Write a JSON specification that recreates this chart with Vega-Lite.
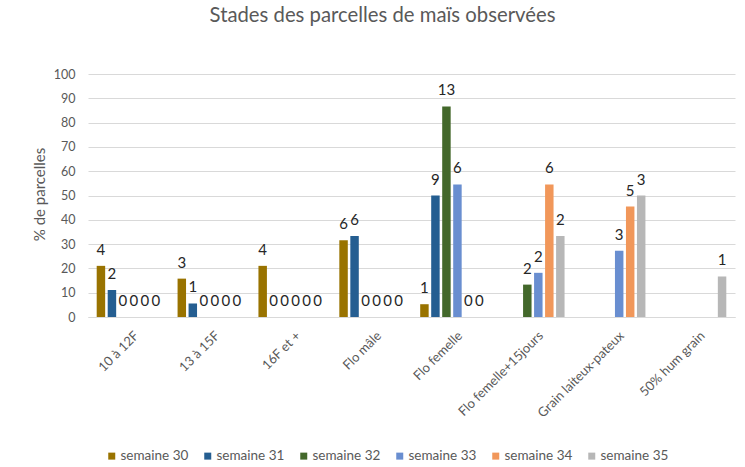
{
  "$schema": "https://vega.github.io/schema/vega-lite/v6.json",
  "width": 647,
  "height": 243,
  "autosize": {"type": "none"},
  "padding": {"left": 88, "top": 74, "right": 10, "bottom": 150},
  "background": "white",
  "title": {
    "text": "Stades des parcelles de maïs observées",
    "font": "Lato",
    "fontSize": 20.3,
    "fontWeight": "normal",
    "color": "#595959",
    "anchor": "middle",
    "baseline": "alphabetic",
    "offset": 26,
    "dx": -29
  },
  "data": {
    "values": [
      {"stade": "10 à 12F", "semaine": "semaine 30", "pct": 21.05, "n": 4},
      {"stade": "10 à 12F", "semaine": "semaine 31", "pct": 11.11, "n": 2},
      {"stade": "10 à 12F", "semaine": "semaine 32", "pct": 0, "n": 0},
      {"stade": "10 à 12F", "semaine": "semaine 33", "pct": 0, "n": 0},
      {"stade": "10 à 12F", "semaine": "semaine 34", "pct": 0, "n": 0},
      {"stade": "10 à 12F", "semaine": "semaine 35", "pct": 0, "n": 0},
      {"stade": "13 à 15F", "semaine": "semaine 30", "pct": 15.79, "n": 3},
      {"stade": "13 à 15F", "semaine": "semaine 31", "pct": 5.56, "n": 1},
      {"stade": "13 à 15F", "semaine": "semaine 32", "pct": 0, "n": 0},
      {"stade": "13 à 15F", "semaine": "semaine 33", "pct": 0, "n": 0},
      {"stade": "13 à 15F", "semaine": "semaine 34", "pct": 0, "n": 0},
      {"stade": "13 à 15F", "semaine": "semaine 35", "pct": 0, "n": 0},
      {"stade": "16F et +", "semaine": "semaine 30", "pct": 21.05, "n": 4},
      {"stade": "16F et +", "semaine": "semaine 31", "pct": 0, "n": 0},
      {"stade": "16F et +", "semaine": "semaine 32", "pct": 0, "n": 0},
      {"stade": "16F et +", "semaine": "semaine 33", "pct": 0, "n": 0},
      {"stade": "16F et +", "semaine": "semaine 34", "pct": 0, "n": 0},
      {"stade": "16F et +", "semaine": "semaine 35", "pct": 0, "n": 0},
      {"stade": "Flo mâle", "semaine": "semaine 30", "pct": 31.58, "n": 6},
      {"stade": "Flo mâle", "semaine": "semaine 31", "pct": 33.33, "n": 6},
      {"stade": "Flo mâle", "semaine": "semaine 32", "pct": 0, "n": 0},
      {"stade": "Flo mâle", "semaine": "semaine 33", "pct": 0, "n": 0},
      {"stade": "Flo mâle", "semaine": "semaine 34", "pct": 0, "n": 0},
      {"stade": "Flo mâle", "semaine": "semaine 35", "pct": 0, "n": 0},
      {"stade": "Flo femelle", "semaine": "semaine 30", "pct": 5.26, "n": 1},
      {"stade": "Flo femelle", "semaine": "semaine 31", "pct": 50, "n": 9},
      {"stade": "Flo femelle", "semaine": "semaine 32", "pct": 86.67, "n": 13},
      {"stade": "Flo femelle", "semaine": "semaine 33", "pct": 54.55, "n": 6},
      {"stade": "Flo femelle", "semaine": "semaine 34", "pct": 0, "n": 0},
      {"stade": "Flo femelle", "semaine": "semaine 35", "pct": 0, "n": 0},
      {"stade": "Flo femelle+15jours", "semaine": "semaine 32", "pct": 13.33, "n": 2},
      {"stade": "Flo femelle+15jours", "semaine": "semaine 33", "pct": 18.18, "n": 2},
      {"stade": "Flo femelle+15jours", "semaine": "semaine 34", "pct": 54.55, "n": 6},
      {"stade": "Flo femelle+15jours", "semaine": "semaine 35", "pct": 33.33, "n": 2},
      {"stade": "Grain laiteux-pateux", "semaine": "semaine 33", "pct": 27.27, "n": 3},
      {"stade": "Grain laiteux-pateux", "semaine": "semaine 34", "pct": 45.45, "n": 5},
      {"stade": "Grain laiteux-pateux", "semaine": "semaine 35", "pct": 50, "n": 3},
      {"stade": "50% hum grain", "semaine": "semaine 35", "pct": 16.67, "n": 1}
    ]
  },
  "encoding": {
    "x": {
      "field": "stade",
      "type": "nominal",
      "sort": ["10 à 12F", "13 à 15F", "16F et +", "Flo mâle", "Flo femelle", "Flo femelle+15jours", "Grain laiteux-pateux", "50% hum grain"],
      "scale": {"paddingInner": 0, "paddingOuter": 0},
      "axis": {
        "title": null,
        "labelAngle": -45,
        "labelFont": "Lato",
        "labelFontSize": 13,
        "labelColor": "#595959",
        "labelPadding": 12,
        "labelOffset": 4,
        "ticks": false,
        "domain": true,
        "domainColor": "#D9D9D9",
        "grid": false
      }
    },
    "xOffset": {
      "field": "semaine",
      "type": "nominal",
      "scale": {
        "domain": ["semaine 30", "semaine 31", "semaine 32", "semaine 33", "semaine 34", "semaine 35"],
        "paddingInner": 0.23,
        "paddingOuter": 0.79
      }
    },
    "y": {
      "field": "pct",
      "type": "quantitative",
      "scale": {"domain": [0, 100], "nice": false},
      "axis": {
        "values": [0, 10, 20, 30, 40, 50, 60, 70, 80, 90, 100],
        "title": "% de parcelles",
        "titleFont": "Lato",
        "titleFontSize": 15,
        "titleFontWeight": "normal",
        "titleColor": "#595959",
        "titleAngle": -90,
        "titleAlign": "center",
        "titleBaseline": "middle",
        "titleX": -49,
        "titleY": 120,
        "labelFont": "Lato",
        "labelFontSize": 12.5,
        "labelColor": "#595959",
        "labelPadding": 13,
        "ticks": false,
        "domain": false,
        "grid": true,
        "gridColor": "#D9D9D9",
        "gridWidth": 1
      }
    }
  },
  "layer": [
    {
      "mark": {"type": "bar"},
      "encoding": {
        "color": {
          "field": "semaine",
          "type": "nominal",
          "scale": {
            "domain": ["semaine 30", "semaine 31", "semaine 32", "semaine 33", "semaine 34", "semaine 35"],
            "range": ["#997300", "#255E91", "#43682B", "#698ED0", "#F1975A", "#B7B7B7"]
          },
          "legend": {
            "title": null,
            "orient": "none",
            "direction": "horizontal",
            "columns": 6,
            "legendX": 17,
            "legendY": 375,
            "symbolType": "square",
            "symbolSize": 49,
            "symbolStrokeWidth": 0,
            "labelFont": "Lato",
            "labelFontSize": 13.5,
            "labelColor": "#595959",
            "labelOffset": 2,
            "columnPadding": 12,
            "gridAlign": "all"
          }
        }
      }
    },
    {
      "mark": {"type": "text", "dy": -11, "baseline": "alphabetic", "font": "Lato", "fontSize": 15, "color": "#262626"},
      "encoding": {
        "text": {"field": "n", "type": "quantitative"}
      }
    }
  ],
  "config": {"view": {"stroke": null}}
}
